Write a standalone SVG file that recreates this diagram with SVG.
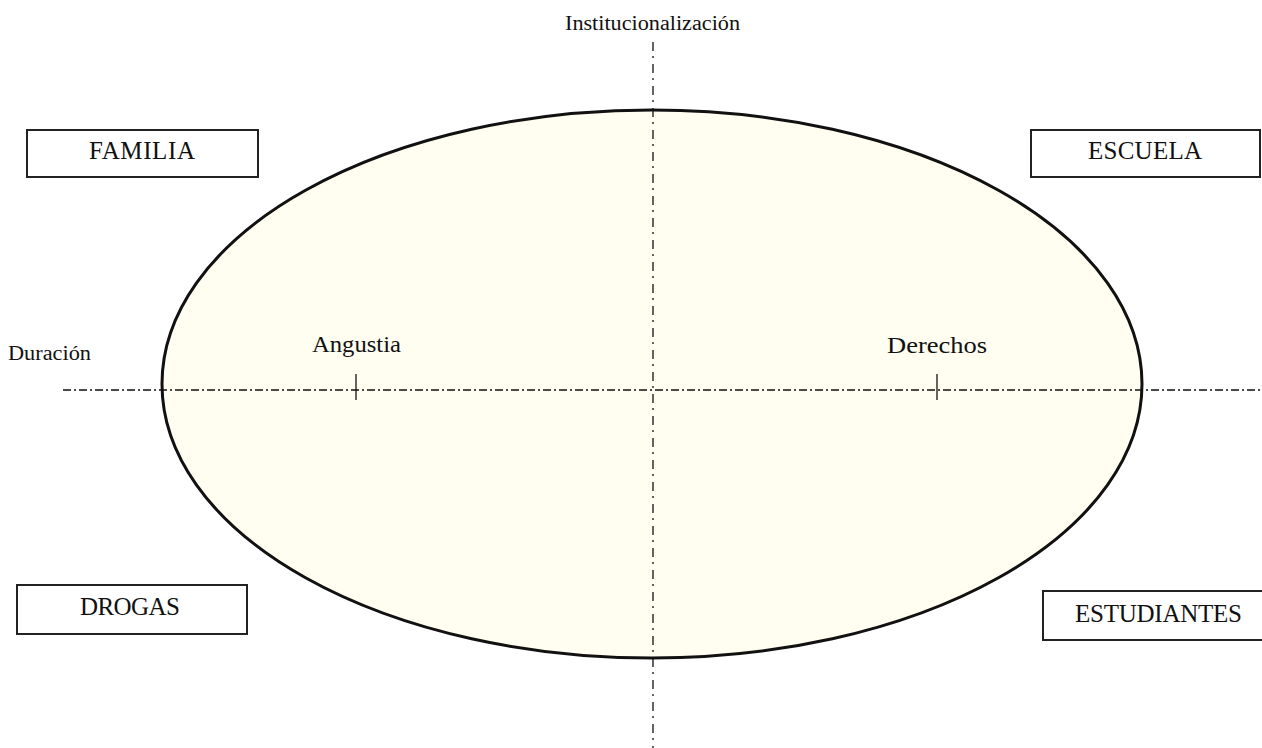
<svg xmlns="http://www.w3.org/2000/svg" width="1262" height="748" viewBox="0 0 1262 748">
<style>
.box{fill:#fff;stroke:#222;stroke-width:2}
.t{font-family:"Liberation Serif",serif;fill:#111}
.bt{font-size:25px}
.lbl{font-size:24px}
.sm{font-size:20px}
.axis{stroke:#111;stroke-width:1.3;fill:none}
</style>
<rect width="1262" height="748" fill="#fff"/>
<g id="ellipse">
<ellipse cx="652" cy="384" rx="490" ry="274" fill="#FFFEF1" stroke="#111" stroke-width="3"/>
</g>
<g id="connectors">
<line class="axis" x1="653" y1="42" x2="653" y2="748" stroke-dasharray="9,5,2,6"/>
<line class="axis" x1="63" y1="390" x2="1262" y2="390" stroke-dasharray="8,3,2,3"/>
<line class="axis" x1="356" y1="374" x2="356" y2="400"/>
<line class="axis" x1="937" y1="374" x2="937" y2="400"/>
</g>
<g id="institucionalizacion"><text class="t sm" x="565" y="30" textLength="175" lengthAdjust="spacingAndGlyphs">Institucionalización</text></g>
<g id="duracion"><text class="t sm" x="8" y="360" textLength="83" lengthAdjust="spacingAndGlyphs">Duración</text></g>
<g id="angustia"><text class="t lbl" x="312" y="352" textLength="89" lengthAdjust="spacingAndGlyphs">Angustia</text></g>
<g id="derechos"><text class="t lbl" x="887" y="353" textLength="100" lengthAdjust="spacingAndGlyphs">Derechos</text></g>
<g id="familia"><rect class="box" x="27" y="130" width="231" height="47"/><text class="t bt" x="89" y="159" textLength="106" lengthAdjust="spacing">FAMILIA</text></g>
<g id="escuela"><rect class="box" x="1031" y="130" width="229" height="47"/><text class="t bt" x="1088" y="159" textLength="114" lengthAdjust="spacing">ESCUELA</text></g>
<g id="drogas"><rect class="box" x="17" y="585" width="230" height="49"/><text class="t bt" x="80" y="615" textLength="100" lengthAdjust="spacing">DROGAS</text></g>
<g id="estudiantes"><rect class="box" x="1043" y="591" width="222" height="49"/><text class="t bt" x="1075" y="622" textLength="167" lengthAdjust="spacing">ESTUDIANTES</text></g>
</svg>
